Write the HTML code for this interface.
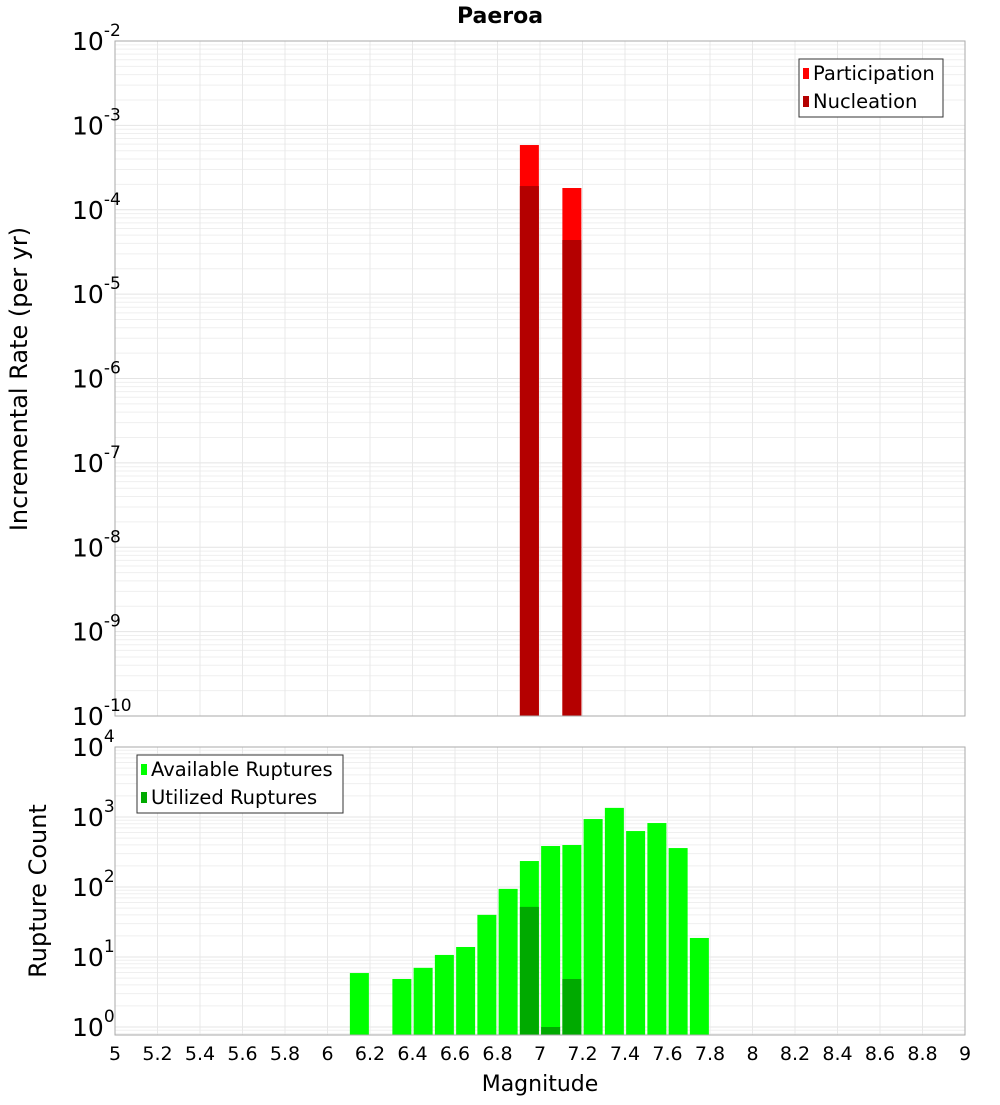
<!DOCTYPE html>
<html><head><meta charset="utf-8"><style>
body{margin:0;background:#fff;font-family:"Liberation Sans","DejaVu Sans",sans-serif}
svg text{font-family:"DejaVu Sans","Liberation Sans",sans-serif}
</style></head><body>
<svg id="c" width="1000" height="1100"></svg>
<script>
const binCenters=[6.15,6.35,6.45,6.55,6.65,6.75,6.85,6.95,7.05,7.15,7.25,7.35,7.45,7.55,7.65,7.75];
const available=[5.9,4.85,7.0,10.7,13.9,40,94,235,385,398,935,1350,630,820,360,18.7];
const utilizedBins=[6.95,7.05,7.15];
const utilized=[52,1.0,4.85];
const rateBins=[6.95,7.15];
const participation=[5.85e-4,1.81e-4];
const nucleation=[1.91e-4,4.38e-5];
const xTicks=[5,5.2,5.4,5.6,5.8,6,6.2,6.4,6.6,6.8,7,7.2,7.4,7.6,7.8,8,8.2,8.4,8.6,8.8,9];
const topExps=[-2,-3,-4,-5,-6,-7,-8,-9,-10];
const botExps=[4,3,2,1,0];

const NS="http://www.w3.org/2000/svg",svg=document.getElementById('c');
function el(t,a,p){const e=document.createElementNS(NS,t);for(const k in a)e.setAttribute(k,a[k]);(p||svg).appendChild(e);return e;}
const X0=115,X1=965;
const x=v=>X0+(v-5)/4*(X1-X0);
const T0=41,T1=716,yT=v=>T0+(-2-Math.log10(v))/8*(T1-T0);
const B0=747,B1=1035,yB=v=>1027-70*Math.log10(v);

function grid(top,bot,yf,eMin,eMax,name){
  const g=el('g',{});
  for(let e=eMin;e<=eMax;e++)for(let m=1;m<10;m++){const v=m*Math.pow(10,e);const yy=yf(v);if(yy<top-0.5||yy>bot+0.5)continue;
    el('line',{x1:X0,x2:X1,y1:yy,y2:yy,stroke:m==1?'#e4e4e4':'#efefef','stroke-width':1},g);}
  xTicks.forEach(t=>el('line',{x1:x(t),x2:x(t),y1:top,y2:bot,stroke:'#e8e8e8'},g));
}
grid(T0,T1,yT,-10,-3,'top-grid');
grid(B0,B1,yB,-1,3,'bottom-grid');

const bw=19;
function bar(c,v,yf,base,color,name){
  const r=el('rect',{x:x(c)-bw/2,y:yf(v),width:bw,height:base-yf(v),fill:color});
  
}
rateBins.forEach((c,i)=>bar(c,participation[i],yT,T1,'#ff0000','participation-bar'));
rateBins.forEach((c,i)=>bar(c,nucleation[i],yT,T1,'#b40000','nucleation-bar'));
binCenters.forEach((c,i)=>bar(c,available[i],yB,B1,'#00ff00','available-bar'));
utilizedBins.forEach((c,i)=>bar(c,utilized[i],yB,B1,'#00aa00','utilized-bar'));

el('rect',{x:X0,y:T0,width:X1-X0,height:T1-T0,fill:'none',stroke:'#aaa'});
el('rect',{x:X0,y:B0,width:X1-X0,height:B1-B0,fill:'none',stroke:'#aaa'});

function ylab(exp,yy,name){
  const t=el('text',{x:72,y:yy+9,'text-anchor':'start','font-size':25,fill:'#000'});
  
  const a=el('tspan',{},t);a.textContent='10';
  const b=el('tspan',{'font-size':17,dy:-14},t);b.textContent=exp;
}
topExps.forEach(e=>ylab(e,yT(Math.pow(10,e)),'top-y-tick'));
botExps.forEach(e=>ylab(e,yB(Math.pow(10,e)),'bottom-y-tick'));
xTicks.forEach(t=>{const s=el('text',{x:x(t),y:1060,'text-anchor':'middle','font-size':19});s.textContent=String(t);
  });

function txt(s,a,name){const t=el('text',a);t.textContent=s;return t;}
txt('Paeroa',{x:500,y:23,'text-anchor':'middle','font-size':22,'font-weight':'bold'},'chart-title');
txt('Magnitude',{x:540,y:1091,'text-anchor':'middle','font-size':22},'x-axis-title');
txt('Incremental Rate (per yr)',{x:0,y:0,'text-anchor':'middle','font-size':24,transform:'translate(27,379) rotate(-90)'},'top-y-axis-title');
txt('Rupture Count',{x:0,y:0,'text-anchor':'middle','font-size':24,transform:'translate(46,891) rotate(-90)'},'bottom-y-axis-title');

function legend(bx,by,w,items,name){
  const g=el('g',{});
  el('rect',{x:bx,y:by,width:w,height:58,fill:'#fff',stroke:'#333'},g);
  items.forEach((it,i)=>{el('rect',{x:bx+4,y:by+9+i*28,width:6,height:11,fill:it[1]},g);
    const t=el('text',{x:bx+14,y:by+21+i*28,'font-size':19.5},g);t.textContent=it[0];});
}
legend(799,59,144,[['Participation','#ff0000'],['Nucleation','#b40000']],'top-legend');
legend(137,755,206,[['Available Ruptures','#00ff00'],['Utilized Ruptures','#00aa00']],'bottom-legend');
</script>
</body></html>
